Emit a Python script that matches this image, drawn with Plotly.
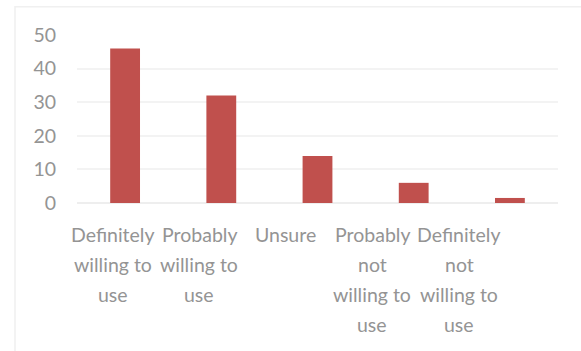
import plotly.graph_objects as go

categories = ["Definitely willing to use", "Probably willing to use", "Unsure",
              "Probably not willing to use", "Definitely not willing to use"]
label_lines = [["Definitely", "willing to", "use"],
               ["Probably", "willing to", "use"],
               ["Unsure"],
               ["Probably", "not", "willing to", "use"],
               ["Definitely", "not", "willing to", "use"]]
values = [46, 32, 14, 6, 1.5]
y_ticks = [0, 10, 20, 30, 40, 50]

BAR = "#C0504D"
TXT = "#949494"
GRID = "#F3F3F3"
FONT = "Lato"

W, H = 581, 351
L, R, T, B = 77, 23, 34.5, 147.5

fig = go.Figure()
fig.add_trace(go.Bar(x=categories, y=values, marker=dict(color=BAR, line=dict(width=0)),
                     width=0.31, hoverinfo="skip"))

annotations = []
for i, lines in enumerate(label_lines):
    for j, line in enumerate(lines):
        annotations.append(dict(x=i, y=0, xref="x2", yref="y", text=line, showarrow=False,
                                xanchor="center", yanchor="middle", yshift=-(31.5 + 30 * j),
                                font=dict(family=FONT, size=19.5, color=TXT)))

fig.update_layout(
    width=W, height=H,
    margin=dict(l=L, r=R, t=T, b=B, pad=0),
    paper_bgcolor="white", plot_bgcolor="white",
    showlegend=False,
    xaxis=dict(type="category", categoryarray=categories, range=[-0.5, 4.5],
               showticklabels=False, showgrid=False, zeroline=False, showline=False, ticks=""),
    xaxis2=dict(overlaying="x", range=[-0.412, 5.142], visible=False, showgrid=False),
    yaxis=dict(range=[0, 50], tickvals=y_ticks, showgrid=True, gridcolor=GRID, gridwidth=1.5,
               zeroline=True, zerolinecolor="#EEEEEE", zerolinewidth=1.5, showline=False,
               ticks="", ticklabelstandoff=20,
               tickfont=dict(family=FONT, size=19.5, color=TXT)),
    annotations=annotations,
    shapes=[dict(type="rect", xref="paper", yref="paper",
                 x0=(15 - L) / (W - L - R), x1=1.2,
                 y0=-1.2, y1=(H - B - 6) / (H - T - B),
                 line=dict(color="#F0F0F0", width=1.5), fillcolor="rgba(0,0,0,0)", layer="below")],
)

fig.write_html("out.html")
